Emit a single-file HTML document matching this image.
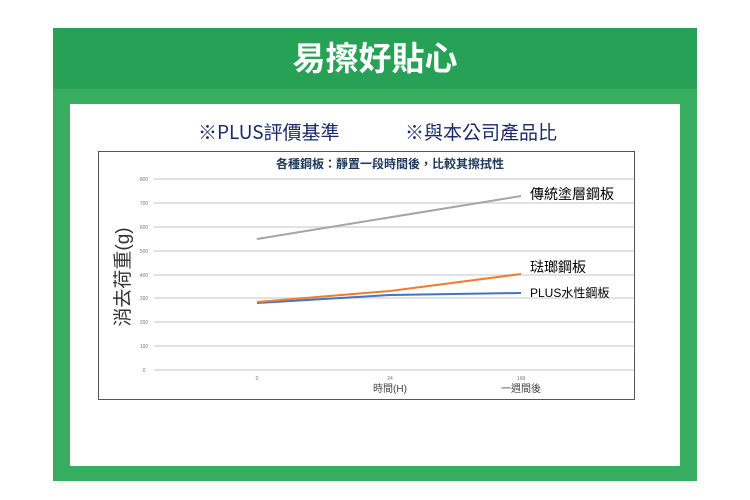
<!DOCTYPE html><html><head><meta charset="utf-8"><style>
body{margin:0;width:750px;height:500px;background:#fff;position:relative;font-family:"Liberation Sans","Noto Sans CJK TC",sans-serif;overflow:hidden}
.a{position:absolute}
</style></head><body>
<div class="a" style="left:53px;top:28px;width:644px;height:453px;background:#37ae5f"></div>
<div class="a" style="left:53px;top:28px;width:644px;height:61px;background:#27a155"></div>
<div class="a" style="left:53px;top:32px;width:644px;text-align:center;color:#fff;font-size:33px;font-weight:bold;font-family:'Noto Sans CJK TC',sans-serif">易擦好貼心</div>
<div class="a" style="left:70px;top:104px;width:610px;height:362px;background:#fff"></div>
<div class="a" style="left:198px;top:118px;font-size:19px;color:#1a2a6a;font-family:'Noto Sans CJK TC',sans-serif">※PLUS評價基準</div>
<div class="a" style="left:405px;top:118px;font-size:19px;color:#1a2a6a;font-family:'Noto Sans CJK TC',sans-serif">※與本公司產品比</div>
<svg class="a" style="left:0;top:0" width="750" height="500" font-family="Liberation Sans,Noto Sans CJK TC,sans-serif">
<rect x="98.5" y="151.5" width="536" height="248" fill="#fff" stroke="#555" stroke-width="1"/>
<text x="390" y="168" font-size="12" fill="#1f3a60" text-anchor="middle" font-weight="bold">各種鋼板：靜置一段時間後，比較其擦拭性</text>
<g stroke="#d9d9d9" stroke-width="1.5">
<line x1="154" x2="634" y1="179" y2="179"/><line x1="154" x2="634" y1="203" y2="203"/><line x1="154" x2="634" y1="227" y2="227"/><line x1="154" x2="634" y1="251" y2="251"/><line x1="154" x2="634" y1="275" y2="275"/><line x1="154" x2="634" y1="298" y2="298"/><line x1="154" x2="634" y1="322" y2="322"/><line x1="154" x2="634" y1="346" y2="346"/><line x1="154" x2="634" y1="370" y2="370"/></g>
<g font-size="5" fill="#777" text-anchor="middle">
<text x="144" y="181">800</text><text x="144" y="205">700</text><text x="144" y="229">600</text><text x="144" y="253">500</text><text x="144" y="277">400</text><text x="144" y="300">300</text><text x="144" y="324">200</text><text x="144" y="348">100</text><text x="144" y="372">0</text>
<text x="257" y="380">0</text><text x="390" y="380">24</text><text x="521" y="380">168</text></g>
<text x="390" y="392" font-size="10" fill="#444" text-anchor="middle">時間(H)</text>
<text x="521" y="392" font-size="10" fill="#444" text-anchor="middle">一週間後</text>
<text transform="translate(129,277) rotate(-90)" font-size="19" fill="#333" text-anchor="middle">消去荷重(g)</text>
<polyline points="257,239 521,196" fill="none" stroke="#a5a5a5" stroke-width="2"/>
<polyline points="257,303 390,295 521,293" fill="none" stroke="#4472c4" stroke-width="2"/>
<polyline points="257,302 390,291 521,274" fill="none" stroke="#ed7d31" stroke-width="2"/>
<text x="530" y="199" font-size="14" fill="#000">傳統塗層鋼板</text>
<text x="530" y="272" font-size="14" fill="#000">琺瑯鋼板</text>
<text x="530" y="297" font-size="12" fill="#000">PLUS水性鋼板</text>
</svg>
</body></html>
